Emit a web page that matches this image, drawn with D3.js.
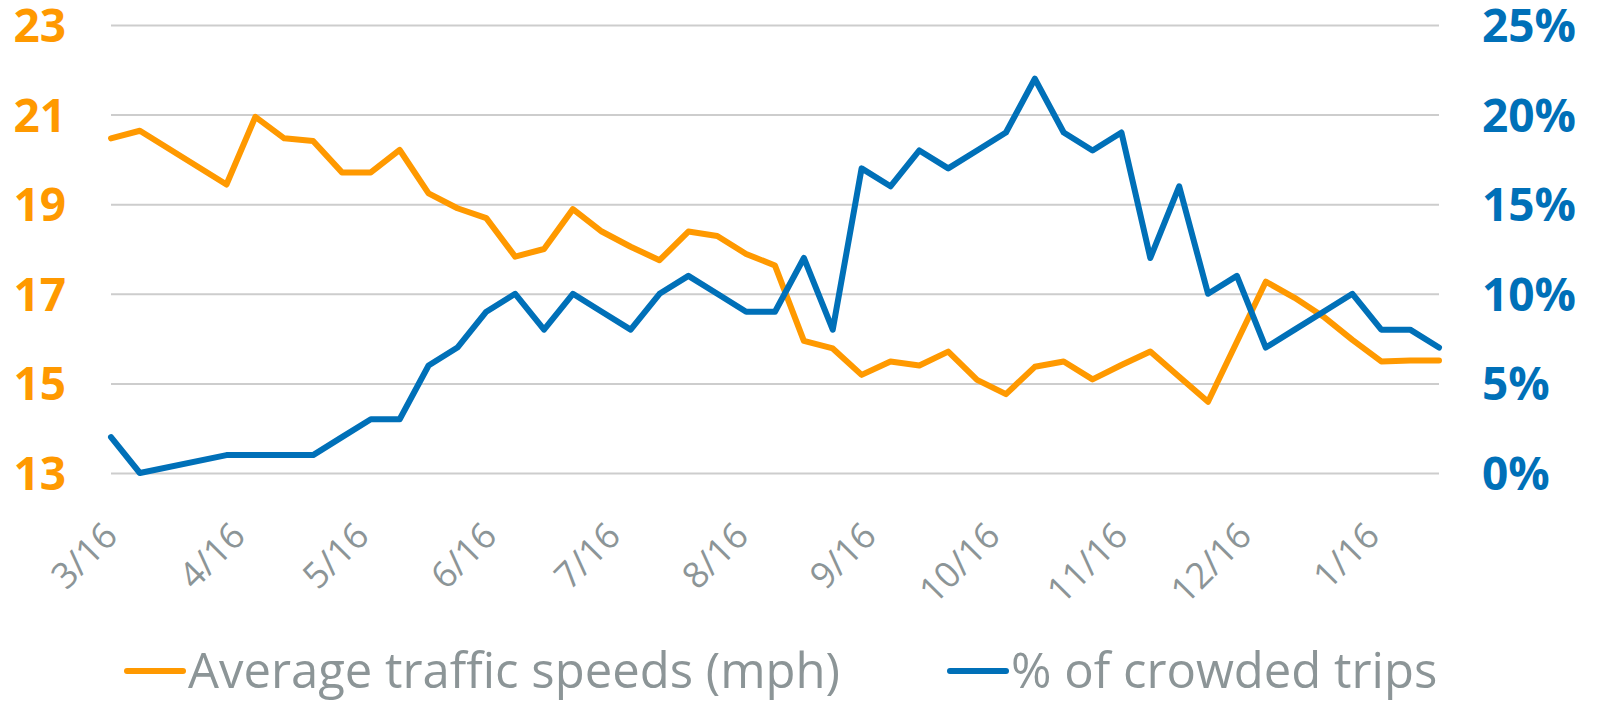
<!DOCTYPE html>
<html lang="en">

<head>
    <meta charset="UTF-8">
    <title>Traffic speeds vs crowded trips</title>
    <script src="https://d3js.org/d3.v7.min.js"></script>
    <style>
        body {
            margin: 0;
            background: #fff;
        }

        svg {
            display: block;
        }

        svg text {
            font-family: "Open Sans", "Noto Sans", sans-serif;
        }

        .grid line {
            stroke: #cdcdcd;
            stroke-width: 2px;
        }

        .series {
            fill: none;
            stroke-width: 6px;
            stroke-linejoin: round;
            stroke-linecap: round;
        }

        .axis-left text {
            fill: #ff9900;
            font-size: 46px;
            font-weight: 700;
        }

        .axis-right text {
            fill: #0070b8;
            font-size: 46px;
            font-weight: 700;
        }

        .axis-x text {
            fill: #8c9597;
            font-size: 36px;
        }

        .legend text {
            fill: #8c9597;
            font-size: 49px;
        }
    </style>
</head>

<body>
    <div id="chart"></div>

    <script>
        // weekly readings (a few weeks in early spring are missing)
        const dates = [
            "2016-03-16", "2016-03-23", "2016-04-13", "2016-04-20", "2016-04-27",
            "2016-05-04", "2016-05-11", "2016-05-18", "2016-05-25", "2016-06-01",
            "2016-06-08", "2016-06-15", "2016-06-22", "2016-06-29", "2016-07-06",
            "2016-07-13", "2016-07-20", "2016-07-27", "2016-08-03", "2016-08-10",
            "2016-08-17", "2016-08-24", "2016-08-31", "2016-09-07", "2016-09-14",
            "2016-09-21", "2016-09-28", "2016-10-05", "2016-10-12", "2016-10-19",
            "2016-10-26", "2016-11-02", "2016-11-09", "2016-11-16", "2016-11-23",
            "2016-11-30", "2016-12-07", "2016-12-14", "2016-12-21", "2016-12-28",
            "2017-01-04", "2017-01-11", "2017-01-18", "2017-01-25", "2017-02-01"
        ];

        // average traffic speed, mph
        const speeds = [
            20.47, 20.64, 19.44, 20.95, 20.47,
            20.41, 19.71, 19.71, 20.21, 19.24,
            18.91, 18.69, 17.83, 18.0, 18.89,
            18.39, 18.05, 17.75, 18.39, 18.29,
            17.89, 17.63, 15.95, 15.78, 15.19,
            15.49, 15.4, 15.71, 15.08, 14.76,
            15.37, 15.49, 15.09, 15.41, 15.71,
            15.15, 14.59, 15.93, 17.27, 16.91,
            16.49, 15.97, 15.49, 15.51, 15.51
        ];

        // share of crowded trips, %
        const crowded = [
            2, 0, 1, 1, 1,
            1, 2, 3, 3, 6,
            7, 9, 10, 8, 10,
            9, 8, 10, 11, 10,
            9, 9, 12, 8, 17,
            16, 18, 17, 18, 19,
            22, 19, 18, 19, 12,
            16, 10, 11, 7, 8,
            9, 10, 8, 8, 7
        ];

        const tickDates = [
            "2016-03-16", "2016-04-16", "2016-05-16", "2016-06-16", "2016-07-16", "2016-08-16",
            "2016-09-16", "2016-10-16", "2016-11-16", "2016-12-16", "2017-01-16"
        ];
        const tickLabels = ["3/16", "4/16", "5/16", "6/16", "7/16", "8/16", "9/16", "10/16", "11/16", "12/16", "1/16"];

        const speedTicks = [13, 15, 17, 19, 21, 23];
        const crowdedTicks = [0, 5, 10, 15, 20, 25];

        const seriesNames = ["Average traffic speeds (mph)", "% of crowded trips"];
        const seriesColors = ["#ff9900", "#0070b8"];

        // layout
        const width = 1597;
        const height = 701;
        const plotLeft = 111, plotRight = 1439, plotTop = 25, plotBottom = 473;

        const parse = d3.timeParse("%Y-%m-%d");
        const dateObjs = dates.map(parse);

        const x = d3.scaleTime()
            .domain(d3.extent(dateObjs))
            .range([plotLeft, plotRight]);

        const ySpeed = d3.scaleLinear()
            .domain([13, 23])
            .range([plotBottom, plotTop]);

        const yCrowd = d3.scaleLinear()
            .domain([0, 25])
            .range([plotBottom, plotTop]);

        const svg = d3.select("#chart").append("svg")
            .attr("width", width)
            .attr("height", height);

        // horizontal gridlines
        svg.append("g")
            .attr("class", "grid")
            .attr("transform", `translate(${plotLeft},0)`)
            .call(d3.axisLeft(ySpeed).tickValues(speedTicks).tickSize(-(plotRight - plotLeft)).tickFormat(""))
            .call(g => g.select(".domain").remove());

        // left axis (speed)
        svg.append("g")
            .attr("class", "axis-left")
            .attr("transform", "translate(66,0)")
            .call(d3.axisLeft(ySpeed).tickValues(speedTicks).tickSize(0).tickPadding(0))
            .call(g => g.select(".domain").remove())
            .selectAll("text")
            .attr("dy", "0.36em");

        // right axis (crowded %)
        svg.append("g")
            .attr("class", "axis-right")
            .attr("transform", "translate(1482,0)")
            .call(d3.axisRight(yCrowd).tickValues(crowdedTicks).tickSize(0).tickPadding(0)
                .tickFormat(d => d + "%"))
            .call(g => g.select(".domain").remove())
            .selectAll("text")
            .attr("dy", "0.36em");

        // bottom axis, rotated month labels
        svg.append("g")
            .attr("class", "axis-x")
            .attr("transform", "translate(0,538)")
            .call(d3.axisBottom(x).tickValues(tickDates.map(parse)).tickSize(0).tickPadding(0)
                .tickFormat((d, i) => tickLabels[i]))
            .call(g => g.select(".domain").remove())
            .selectAll("text")
            .attr("y", 0)
            .attr("dy", 0)
            .attr("text-anchor", "end")
            .attr("transform", "translate(8,0) rotate(-45)");

        // lines
        const speedLine = d3.line()
            .x((d, i) => x(dateObjs[i]))
            .y(d => ySpeed(d));

        const crowdLine = d3.line()
            .x((d, i) => x(dateObjs[i]))
            .y(d => yCrowd(d));

        svg.append("path")
            .datum(speeds)
            .attr("class", "series")
            .attr("stroke", seriesColors[0])
            .attr("d", speedLine);

        svg.append("path")
            .datum(crowded)
            .attr("class", "series")
            .attr("stroke", seriesColors[1])
            .attr("d", crowdLine);

        // legend
        const legendX = [127, 950];
        const legend = svg.append("g")
            .attr("class", "legend")
            .selectAll("g")
            .data(seriesNames)
            .enter().append("g")
            .attr("transform", (d, i) => `translate(${legendX[i]},671)`);

        legend.append("line")
            .attr("x1", 0)
            .attr("x2", 56)
            .attr("stroke", (d, i) => seriesColors[i])
            .attr("stroke-width", 6)
            .attr("stroke-linecap", "round");

        legend.append("text")
            .attr("x", 61)
            .attr("y", 17)
            .text(d => d);
    </script>
</body>

</html>
